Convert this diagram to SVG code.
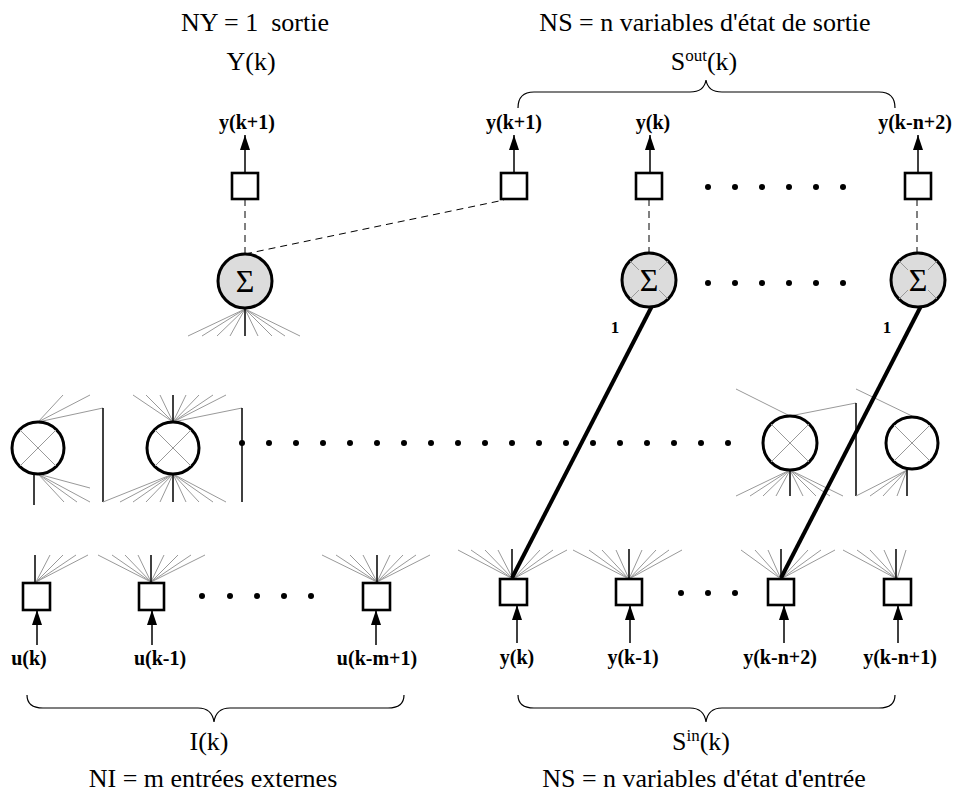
<svg xmlns="http://www.w3.org/2000/svg" width="958" height="794" viewBox="0 0 958 794" font-family="'Liberation Serif', 'DejaVu Serif', serif">
<defs>
<marker id="ah" markerUnits="userSpaceOnUse" markerWidth="15" markerHeight="10" viewBox="0 0 15 10" refX="15" refY="5" orient="auto">
<path d="M0,0 L15,5 L0,10 z" fill="#000"/>
</marker>
</defs>
<style>
text{font-family:'Liberation Serif','DejaVu Serif',serif;fill:#000}
.t{font-size:26px;text-anchor:middle;white-space:pre}
.l{font-size:20px;font-weight:bold;text-anchor:middle}
.one{font-size:17px;font-weight:bold;text-anchor:middle}
.sig{font-size:32px;text-anchor:middle}
.sq{fill:#fff;stroke:#000;stroke-width:2.6}
.sc{fill:#dcdcdc;stroke:#000;stroke-width:3}
.pc{fill:#fff;stroke:#000;stroke-width:3}
.x{stroke:#999;stroke-width:1;fill:none}
.g{stroke:#999;stroke-width:1;fill:none}
.b{stroke:#000;stroke-width:1.5;fill:none}
.d{stroke:#000;stroke-width:1;stroke-dasharray:7,5;fill:none}
.thick{stroke:#000;stroke-width:4;fill:none}
.ar{stroke:#000;stroke-width:1.5;fill:none;marker-end:url(#ah)}
.br{stroke:#000;stroke-width:1.2;fill:none}
.dot{fill:#000}
</style>
<rect width="958" height="794" fill="#fff"/>

<g id="titles">
<text class="t" x="255" y="31" xml:space="preserve">NY = 1  sortie</text>
<text class="t" x="251" y="70">Y(k)</text>
<text class="t" x="705" y="31">NS = n variables d'état de sortie</text>
<text class="t" x="704" y="70">S<tspan font-size="17" dy="-9">out</tspan><tspan dy="9">(k)</tspan></text>
<text class="t" x="209" y="750">I(k)</text>
<text class="t" x="213" y="787">NI = m entrées externes</text>
<text class="t" x="701" y="750">S<tspan font-size="17" dy="-9">in</tspan><tspan dy="9">(k)</tspan></text>
<text class="t" x="704" y="787">NS = n variables d'état d'entrée</text>
</g>

<g id="braces">
<path class="br" d="M518,108 Q518,92 534,92 L690,92 Q704,92 706,80 Q708,92 722,92 L879,92 Q895,92 895,108"/>
<path class="br" d="M27,695 Q27,708 43,708 L198,708 Q212,708 214,722 Q216,708 230,708 L388,708 Q404,708 404,695"/>
<path class="br" d="M518,695 Q518,708 534,708 L690,708 Q704,708 706,722 Q708,708 722,708 L879,708 Q895,708 895,695"/>
</g>

<g id="connectors">
<line class="ar" x1="245" y1="173" x2="245" y2="135"/>
<line class="ar" x1="514" y1="173" x2="514" y2="135"/>
<line class="ar" x1="650" y1="173" x2="650" y2="135"/>
<line class="ar" x1="918" y1="173" x2="918" y2="135"/>
<line class="d" x1="245" y1="199" x2="245" y2="254"/>
<line class="d" x1="245" y1="254" x2="504" y2="200"/>
<line class="d" x1="649" y1="199" x2="649" y2="253"/>
<line class="d" x1="917" y1="199" x2="917" y2="253"/>
<path class="g" d="M245,309 L188,336 M245,309 L202,336 M245,309 L217,336 M245,309 L230,336 M245,309 L258,336 M245,309 L272,336 M245,309 L285,336 M245,309 L300,336"/>
<line class="b" x1="245" y1="309" x2="245" y2="336"/>
<path class="g" d="M38,422 L63,395 M38,422 L90,395 M38,422 L103,408"/>
<path class="g" d="M38,474 L90,488 M38,474 L90,502 M38,474 L77,502 M38,474 L64,502"/>
<line class="b" x1="34" y1="474" x2="34" y2="505"/>
<line class="b" x1="103" y1="408" x2="103" y2="502"/>
<path class="g" d="M103,502 L173,474"/>
<path class="g" d="M173,422 L133,395 M173,422 L146,395 M173,422 L160,395 M173,422 L186,395 M173,422 L199,395 M173,422 L213,395 M173,422 L226,395 M173,422 L242,408"/>
<line class="b" x1="173" y1="422" x2="173" y2="395"/>
<path class="g" d="M173,474 L120,502 M173,474 L133,502 M173,474 L146,502 M173,474 L160,502 M173,474 L186,502 M173,474 L199,502 M173,474 L213,502 M173,474 L226,502"/>
<line class="b" x1="173" y1="474" x2="173" y2="502"/>
<line class="b" x1="242" y1="408" x2="242" y2="502"/>
<path class="g" d="M790,416 L736,389 M790,416 L856,403"/>
<line class="b" x1="856" y1="403" x2="856" y2="496"/>
<path class="g" d="M790,470 L736,496 M790,470 L750,496 M790,470 L763,496 M790,470 L776,496 M790,470 L803,496 M790,470 L816,496 M790,470 L830,496 M790,470 L843,496"/>
<line class="b" x1="790" y1="470" x2="790" y2="496"/>
<path class="g" d="M856,496 L907,470 M912,416 L856,389"/>
<path class="g" d="M907,470 L870,496 M907,470 L883,496 M907,470 L897,496"/>
<line class="b" x1="907" y1="470" x2="907" y2="496"/>
<path class="g" d="M36,582 L50,555 M36,582 L63,555 M36,582 L76,555 M36,582 L88,555"/>
<line class="b" x1="35" y1="582" x2="35" y2="555"/>
<path class="g" d="M151,582 L98,555 M151,582 L112,555 M151,582 L125,555 M151,582 L138,555 M151,582 L164,555 M151,582 L178,555 M151,582 L191,555 M151,582 L205,555"/>
<line class="b" x1="151" y1="582" x2="151" y2="555"/>
<path class="g" d="M377,582 L322,555 M377,582 L336,555 M377,582 L350,555 M377,582 L363,555 M377,582 L390,555 M377,582 L403,555 M377,582 L416,555 M377,582 L430,555"/>
<line class="b" x1="377" y1="582" x2="377" y2="555"/>
<path class="g" d="M513,579 L458,550 M513,579 L471,550 M513,579 L485,550 M513,579 L498,550 M513,579 L527,550 M513,579 L540,550 M513,579 L553,550 M513,579 L567,550"/>
<line class="b" x1="512" y1="579" x2="512" y2="549"/>
<path class="g" d="M629,579 L573,550 M629,579 L589,550 M629,579 L602,550 M629,579 L616,550 M629,579 L642,550 M629,579 L656,550 M629,579 L669,550 M629,579 L682,550"/>
<line class="b" x1="629" y1="579" x2="629" y2="549"/>
<path class="g" d="M781,579 L741,550 M781,579 L755,550 M781,579 L768,550 M781,579 L795,550 M781,579 L808,550 M781,579 L821,550 M781,579 L835,550"/>
<line class="b" x1="781" y1="579" x2="781" y2="549"/>
<path class="g" d="M897,579 L843,550 M897,579 L857,550 M897,579 L870,550 M897,579 L884,550 M897,579 L906,550"/>
<line class="b" x1="896" y1="579" x2="896" y2="549"/>
<line class="thick" x1="652" y1="306" x2="512" y2="578"/>
<line class="thick" x1="921" y1="306" x2="781" y2="578"/>
<line class="ar" x1="37" y1="645" x2="37" y2="610"/>
<line class="ar" x1="152" y1="645" x2="152" y2="610"/>
<line class="ar" x1="376" y1="645" x2="376" y2="610"/>
<line class="ar" x1="517" y1="643" x2="517" y2="605"/>
<line class="ar" x1="630" y1="643" x2="630" y2="605"/>
<line class="ar" x1="784" y1="643" x2="784" y2="605"/>
<line class="ar" x1="898" y1="643" x2="898" y2="605"/>
</g>

<g id="out-y">
<rect class="sq" x="232" y="173" width="26" height="26"/>
<text class="l" x="247" y="129">y(k+1)</text>
</g>
<g id="sout-1">
<rect class="sq" x="501" y="173" width="26" height="26"/>
<text class="l" x="514" y="129">y(k+1)</text>
</g>
<g id="sout-2">
<rect class="sq" x="636" y="173" width="26" height="26"/>
<text class="l" x="653" y="129">y(k)</text>
</g>
<g id="sout-n">
<rect class="sq" x="905" y="173" width="26" height="26"/>
<text class="l" x="915" y="129">y(k-n+2)</text>
</g>

<g id="sigma-y">
<circle class="sc" cx="245" cy="281" r="27"/>
<text class="sig" x="245" y="292">Σ</text>
</g>
<g id="sigma-1">
<circle class="sc" cx="649" cy="280" r="27"/>
<path class="x" d="M630,261 L639,270 M668,261 L659,270 M630,299 L639,290 M668,299 L659,290"/>
<text class="sig" x="649" y="291">Σ</text>
<text class="one" x="615" y="333">1</text>
</g>
<g id="sigma-n">
<circle class="sc" cx="918" cy="280" r="27"/>
<path class="x" d="M899,261 L908,270 M937,261 L928,270 M899,299 L908,290 M937,299 L928,290"/>
<text class="sig" x="918" y="291">Σ</text>
<text class="one" x="887" y="333">1</text>
</g>

<g id="prod-1">
<circle class="pc" cx="38" cy="448" r="26"/>
<path class="x" d="M20,430 L56,466 M56,430 L20,466"/>
</g>
<g id="prod-2">
<circle class="pc" cx="173" cy="448" r="26"/>
<path class="x" d="M155,430 L191,466 M191,430 L155,466"/>
</g>
<g id="prod-3">
<circle class="pc" cx="790" cy="443" r="27"/>
<path class="x" d="M771,424 L809,462 M809,424 L771,462"/>
</g>
<g id="prod-4">
<circle class="pc" cx="912" cy="443" r="26"/>
<path class="x" d="M894,425 L930,461 M930,425 L894,461"/>
</g>

<g id="in-u1">
<rect class="sq" x="23" y="583" width="27" height="27"/>
<text class="l" x="29" y="665">u(k)</text>
</g>
<g id="in-u2">
<rect class="sq" x="139" y="583" width="25" height="27"/>
<text class="l" x="160" y="665">u(k-1)</text>
</g>
<g id="in-um">
<rect class="sq" x="363" y="583" width="27" height="27"/>
<text class="l" x="377" y="665">u(k-m+1)</text>
</g>
<g id="sin-1">
<rect class="sq" x="500" y="579" width="27" height="26"/>
<text class="l" x="517" y="664">y(k)</text>
</g>
<g id="sin-2">
<rect class="sq" x="616" y="579" width="26" height="26"/>
<text class="l" x="633" y="664">y(k-1)</text>
</g>
<g id="sin-n1">
<rect class="sq" x="768" y="579" width="26" height="26"/>
<text class="l" x="780" y="664">y(k-n+2)</text>
</g>
<g id="sin-n">
<rect class="sq" x="884" y="579" width="27" height="26"/>
<text class="l" x="900" y="664">y(k-n+1)</text>
</g>

<g id="dots">
<circle class="dot" cx="708" cy="187" r="3"/><circle class="dot" cx="735" cy="187" r="3"/><circle class="dot" cx="762" cy="187" r="3"/><circle class="dot" cx="789" cy="187" r="3"/><circle class="dot" cx="816" cy="187" r="3"/><circle class="dot" cx="843" cy="187" r="3"/>
<circle class="dot" cx="708" cy="283" r="3"/><circle class="dot" cx="735" cy="283" r="3"/><circle class="dot" cx="762" cy="283" r="3"/><circle class="dot" cx="789" cy="283" r="3"/><circle class="dot" cx="816" cy="283" r="3"/><circle class="dot" cx="843" cy="283" r="3"/>
<circle class="dot" cx="242" cy="443" r="3"/><circle class="dot" cx="269" cy="443" r="3"/><circle class="dot" cx="296" cy="443" r="3"/><circle class="dot" cx="323" cy="443" r="3"/><circle class="dot" cx="350" cy="443" r="3"/><circle class="dot" cx="377" cy="443" r="3"/><circle class="dot" cx="404" cy="443" r="3"/><circle class="dot" cx="431" cy="443" r="3"/><circle class="dot" cx="458" cy="443" r="3"/><circle class="dot" cx="485" cy="443" r="3"/><circle class="dot" cx="512" cy="443" r="3"/><circle class="dot" cx="539" cy="443" r="3"/><circle class="dot" cx="566" cy="443" r="3"/><circle class="dot" cx="593" cy="443" r="3"/><circle class="dot" cx="620" cy="443" r="3"/><circle class="dot" cx="647" cy="443" r="3"/><circle class="dot" cx="674" cy="443" r="3"/><circle class="dot" cx="701" cy="443" r="3"/><circle class="dot" cx="728" cy="443" r="3"/>
<circle class="dot" cx="202" cy="596" r="3"/><circle class="dot" cx="230" cy="596" r="3"/><circle class="dot" cx="257" cy="596" r="3"/><circle class="dot" cx="284" cy="596" r="3"/><circle class="dot" cx="311" cy="596" r="3"/>
<circle class="dot" cx="681" cy="593" r="3"/><circle class="dot" cx="708" cy="593" r="3"/><circle class="dot" cx="735" cy="593" r="3"/>
</g>
</svg>
